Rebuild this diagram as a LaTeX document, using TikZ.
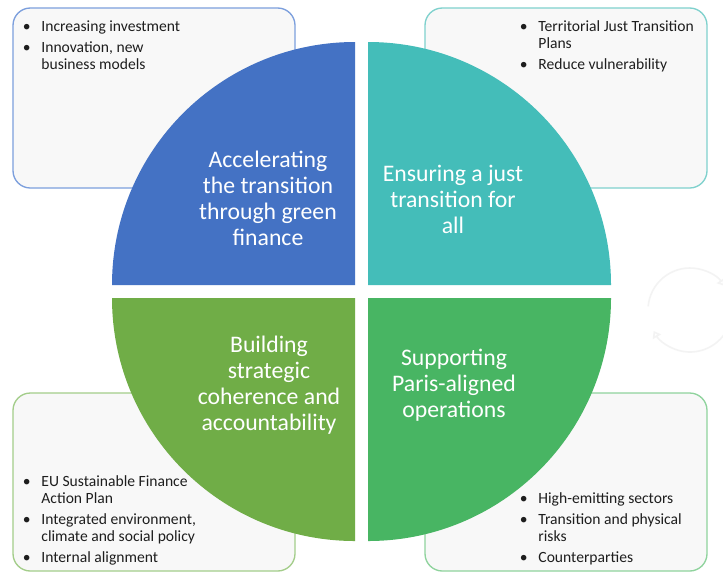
\documentclass[tikz,border=0pt]{standalone}
\usepackage{fontspec}
\setmainfont{Carlito}
\usetikzlibrary{arrows.meta}
\definecolor{qblue}{HTML}{4472C4}
\definecolor{qteal}{HTML}{44BDB9}
\definecolor{qolive}{HTML}{70AD47}
\definecolor{qgreen}{HTML}{48B563}
\definecolor{edgeblue}{HTML}{7C9FDD}
\definecolor{edgeteal}{HTML}{7FD1CD}
\definecolor{edgeolive}{HTML}{A3CD8A}
\definecolor{edgegreen}{HTML}{8FD39D}
\definecolor{boxfill}{HTML}{F8F8F8}
\definecolor{ink}{HTML}{1E1E1E}
\definecolor{ghost}{HTML}{F3F3F3}
\newcommand{\bul}{\makebox[14pt][l]{\textbullet}}

\begin{document}
\begin{tikzpicture}[x=0.75pt,y=-0.75pt,>=Latex,
listbox/.style={fill=boxfill,line width=1pt,rounded corners=13pt},
quadrant/.style={line width=0pt},
qlabel/.style={text=white,align=center,font=\fontsize{17.8}{19.5}\selectfont,inner sep=0pt},
bullets/.style={text=ink,inner sep=0pt,font=\fontsize{11.7}{12.75}\selectfont},
icon/.style={draw=ghost,line width=1.2pt,-{Triangle[open,length=5pt,width=7pt]}}]
\useasboundingbox (0,0) rectangle (723,572);
\fill[white] (0,0) rectangle (723,572);
\draw[listbox,draw=edgeblue] (13,8) rectangle (295,188);
\draw[listbox,draw=edgeteal] (425,8) rectangle (707,188);
\draw[listbox,draw=edgeolive] (13,393) rectangle (295,571);
\draw[listbox,draw=edgegreen] (425,393) rectangle (707,571);
\fill[quadrant,qblue] (355,285) -- (112,285) arc[start angle=180,end angle=270,radius=243] -- cycle;
\fill[quadrant,qteal] (368,285) -- (368,42) arc[start angle=270,end angle=360,radius=243] -- cycle;
\fill[quadrant,qolive] (355,298) -- (112,298) arc[start angle=180,end angle=90,radius=243] -- cycle;
\fill[quadrant,qgreen] (368,298) -- (611,298) arc[start angle=0,end angle=90,radius=243] -- cycle;
\node[qlabel] (finance) at (268,198.5) {Accelerating\\the transition\\through green\\finance};
\node[qlabel] (just) at (453,199) {Ensuring a just\\transition for\\all};
\node[qlabel] (coherence) at (269,385) {Building\\strategic\\coherence and\\accountability};
\node[qlabel] (paris) at (454,385) {Supporting\\Paris-aligned\\operations};
\node[bullets,anchor=north west] (listTL) at (22.5,19) {\begin{tabular}{@{}l@{}l@{}}\bul&Increasing investment\\[3pt]\bul&Innovation, new\\&business models\end{tabular}};
\node[bullets,anchor=north west] (listTR) at (519.5,19) {\begin{tabular}{@{}l@{}l@{}}\bul&Territorial Just Transition\\&Plans\\[3pt]\bul&Reduce vulnerability\end{tabular}};
\node[bullets,anchor=south west] (listBL) at (22.5,567.5) {\begin{tabular}{@{}l@{}l@{}}\bul&EU Sustainable Finance\\&Action Plan\\[3pt]\bul&Integrated environment,\\&climate and social policy\\[3pt]\bul&Internal alignment\end{tabular}};
\node[bullets,anchor=south west] (listBR) at (519.5,567.5) {\begin{tabular}{@{}l@{}l@{}}\bul&High-emitting sectors\\[3pt]\bul&Transition and physical\\&risks\\[3pt]\bul&Counterparties\end{tabular}};
\draw[icon] (690,310) ++(185:42) arc[start angle=185,end angle=325,radius=42];
\draw[icon] (690,310) ++(15:42) arc[start angle=15,end angle=150,radius=42];
\end{tikzpicture}
\end{document}
